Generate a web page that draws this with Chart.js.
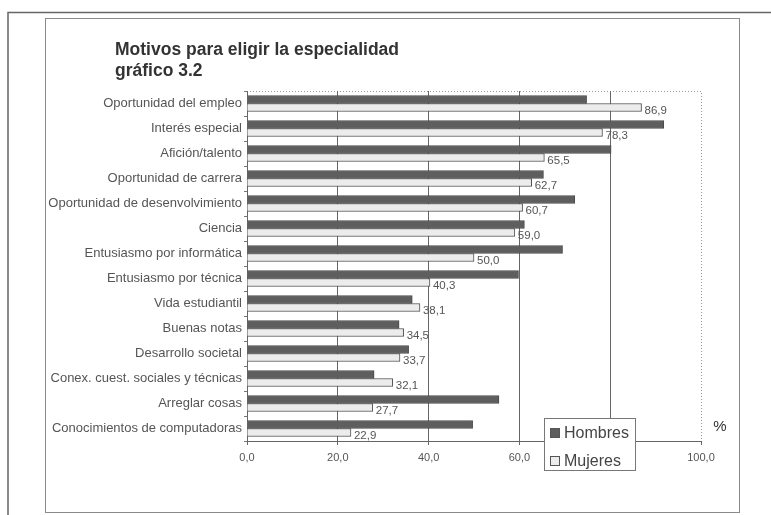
<!DOCTYPE html>
<html>
<head>
<meta charset="utf-8">
<script src="https://cdn.jsdelivr.net/npm/chart.js@4.4.1/dist/chart.umd.min.js"></script>
<style>
    html, body { margin: 0; padding: 0; background: #fff; }
    #wrap { position: relative; width: 771px; height: 515px; }
</style>
</head>
<body>
<div id="wrap"><canvas id="myChart" width="771" height="515"></canvas></div>
<script>
    "use strict";

    let categories = [
        'Oportunidad del empleo',
        'Interés especial',
        'Afición/talento',
        'Oportunidad de carrera',
        'Oportunidad de desenvolvimiento',
        'Ciencia',
        'Entusiasmo por informática',
        'Entusiasmo por técnica',
        'Vida estudiantil',
        'Buenas notas',
        'Desarrollo societal',
        'Conex. cuest. sociales y técnicas',
        'Arreglar cosas',
        'Conocimientos de computadoras'
    ];
    let hombres = [74.8, 91.8, 80.2, 65.3, 72.2, 61.1, 69.5, 59.8, 36.4, 33.5, 35.6, 28.0, 55.5, 49.7];
    let mujeres = [86.9, 78.3, 65.5, 62.7, 60.7, 59.0, 50.0, 40.3, 38.1, 34.5, 33.7, 32.1, 27.7, 22.9];
    let xTicks = [0, 20, 40, 60, 80, 100];

    function fmt(v) {
        return v.toFixed(1).replace('.', ',');
    }

    // frames, title, value labels, legend and the % sign
    let decor = {
        id: 'decor',
        beforeDraw(chart) {
            let c = chart.ctx;
            let a = chart.chartArea;
            c.save();
            c.strokeStyle = '#666';
            c.lineWidth = 1.5;
            c.beginPath();
            c.moveTo(8, 515);
            c.lineTo(8, 12.5);
            c.lineTo(771, 12.5);
            c.stroke();
            c.strokeStyle = '#8a8a8a';
            c.lineWidth = 1;
            c.strokeRect(45.5, 18.5, 694, 494);
            // dotted plot border top/right
            c.setLineDash([1, 2]);
            c.strokeStyle = '#999';
            c.beginPath();
            c.moveTo(a.left, a.top + 0.5);
            c.lineTo(a.right + 0.5, a.top + 0.5);
            c.lineTo(a.right + 0.5, a.bottom);
            c.stroke();
            c.restore();
        },
        afterDraw(chart) {
            let c = chart.ctx;
            c.save();
            c.fillStyle = '#333';
            c.font = 'bold 17.5px "Liberation Sans", Arial, sans-serif';
            c.textBaseline = 'alphabetic';
            c.textAlign = 'left';
            c.fillText('Motivos para eligir la especialidad', 115, 55);
            c.fillText('gráfico 3.2', 115, 76);

            // values next to the Mujeres bars
            let meta = chart.getDatasetMeta(1);
            c.font = '11.5px "Liberation Sans", Arial, sans-serif';
            c.fillStyle = '#555';
            c.textBaseline = 'middle';
            meta.data.forEach(function (bar, i) {
                c.fillText(fmt(mujeres[i]), bar.x + 3, bar.y + 3);
            });

            // % sign
            c.font = '15px "Liberation Sans", Arial, sans-serif';
            c.fillStyle = '#333';
            c.textAlign = 'center';
            c.fillText('%', 720, 427);

            // legend box
            c.fillStyle = '#fff';
            c.fillRect(544, 418, 92, 53);
            c.strokeStyle = '#777';
            c.lineWidth = 1;
            c.strokeRect(544.5, 418.5, 91, 52);
            let ds = chart.data.datasets;
            let rows = [433, 461];
            c.font = '16px "Liberation Sans", Arial, sans-serif';
            c.textAlign = 'left';
            ds.forEach(function (d, i) {
                c.fillStyle = d.backgroundColor;
                c.fillRect(550.5, rows[i] - 4.5, 9, 9);
                c.strokeStyle = '#555';
                c.strokeRect(550.5, rows[i] - 4.5, 9, 9);
                c.fillStyle = '#444';
                c.fillText(d.label, 564, rows[i] + 1);
            });
            c.restore();
        }
    };

    let ctx = document.getElementById('myChart').getContext('2d');

    let chart = new Chart(ctx, {
        type: 'bar',
        data: {
            labels: categories,
            datasets: [
                {
                    label: 'Hombres',
                    backgroundColor: '#5e5e5e',
                    borderColor: '#4a4a4a',
                    borderWidth: 1,
                    barThickness: 8,
                    data: hombres
                },
                {
                    label: 'Mujeres',
                    backgroundColor: '#ececec',
                    borderColor: '#4f4f4f',
                    borderWidth: 1,
                    barThickness: 8,
                    data: mujeres
                }
            ]
        },
        options: {
            indexAxis: 'y',
            responsive: false,
            animation: false,
            layout: {
                padding: { left: 45, top: 91, right: 70, bottom: 0 }
            },
            plugins: {
                legend: { display: false },
                tooltip: { enabled: false }
            },
            scales: {
                x: {
                    min: 0,
                    max: 100,
                    afterBuildTicks: function (scale) {
                        scale.ticks = xTicks.map(function (v) { return { value: v }; });
                    },
                    afterFit: function (scale) {
                        scale.height = 74;
                    },
                    ticks: {
                        color: '#555',
                        padding: 6,
                        font: { family: '"Liberation Sans", Arial, sans-serif', size: 11 },
                        callback: function (v) { return fmt(v); }
                    },
                    grid: {
                        color: function (c) {
                            let v = c.tick ? c.tick.value : 0;
                            return (v === 0 || v === 100) ? 'rgba(0,0,0,0)' : '#666';
                        },
                        tickColor: '#666',
                        tickLength: 4,
                        lineWidth: 1
                    },
                    border: { color: '#666', width: 1 }
                },
                y: {
                    afterFit: function (scale) {
                        scale.width = 202;
                    },
                    ticks: {
                        color: '#555',
                        padding: 2,
                        font: { family: '"Liberation Sans", Arial, sans-serif', size: 13 }
                    },
                    grid: {
                        offset: true,
                        drawOnChartArea: false,
                        tickLength: 3,
                        tickColor: '#777'
                    },
                    border: { color: '#666', width: 1 }
                }
            }
        },
        plugins: [decor]
    });
</script>
</body>
</html>
